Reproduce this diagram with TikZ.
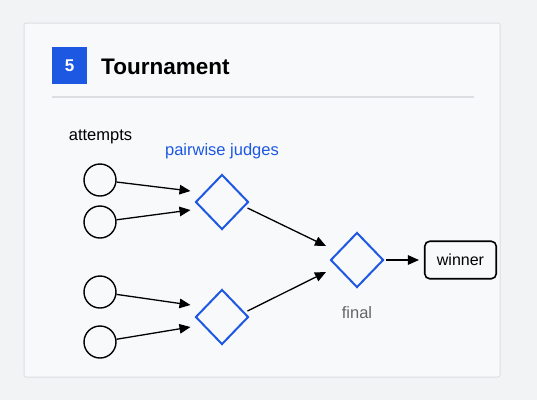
\documentclass[tikz,border=0pt]{standalone}
\usepackage{fontspec}
\setmainfont{Liberation Sans}
\usepackage{tikz}
\usetikzlibrary{shapes.geometric,arrows.meta,calc,positioning}
\definecolor{judgeblue}{HTML}{1D58E2}
\definecolor{cardline}{HTML}{DCDEE2}
\definecolor{pagebg}{HTML}{F2F3F5}
\definecolor{cardbg}{HTML}{F8F9FA}

\begin{document}
\begin{tikzpicture}[x=1pt,y=-1pt]
	\tikzstyle{attempt} = [circle, draw=black, line width=1.4pt, minimum size=32pt, inner sep=0pt]
	\tikzstyle{judge} = [diamond, draw=judgeblue, line width=2pt, minimum width=53pt, minimum height=55pt, inner sep=0pt]
	\tikzstyle{result} = [rectangle, rounded corners=5pt, draw=black, line width=1.6pt, minimum width=71.5pt, minimum height=37.5pt, font=\fontsize{16}{18}\selectfont]
	\tikzstyle{lbl} = [inner sep=0pt, font=\fontsize{16.5}{19}\selectfont]
	\tikzstyle{link} = [line width=1.3pt, -{Triangle[length=11pt 0 0,width=9.5pt 0 0]}]
\useasboundingbox (0,0) rectangle (537,400);
\fill[pagebg] (0,0) rectangle (537,400);
\draw[cardline, fill=cardbg, line width=1pt, rounded corners=2pt] (24,23) rectangle (500,377);
% heading
\node[fill=judgeblue, text=white, minimum width=35pt, minimum height=37pt, inner sep=0pt, font=\bfseries\fontsize{17}{17}\selectfont] (num) at (69.5,65.5) {5};
\node[anchor=base west, inner sep=0pt, font=\bfseries\fontsize{22.5}{24}\selectfont] (title) at (101,74) {Tournament};
\draw[cardline, line width=1.5pt] (52,97) -- (474,97);
% bracket
\node[attempt] (a1) at (100,180) {};
\node[attempt] (a2) at (100,222) {};
\node[attempt] (a3) at (100,292) {};
\node[attempt] (a4) at (100,342) {};
\node[judge] (j1) at (222,202) {};
\node[judge] (j2) at (222,317) {};
\node[judge] (fin) at (357,260) {};
\node[result] (win) at (460.5,260) {winner};
	\path[draw][link] (a1) -- ([shift={(-4,-11)}]j1.west);
	\path[draw][link] (a2) -- ([shift={(-4,8)}]j1.west);
	\path[draw][link] (a3) -- ([shift={(-4,-12)}]j2.west);
	\path[draw][link] (a4) -- ([shift={(-4,10)}]j2.west);
	\path[draw][link] ([shift={(-2,6)}]j1.east) -- ([shift={(-3.5,-14)}]fin.west);
	\path[draw][link] ([shift={(-2,-6)}]j2.east) -- ([shift={(-3.5,12)}]fin.west);
	\path[draw][link] ([xshift=1pt]fin.east) -- ([xshift=-5pt]win.west);
\node[lbl, anchor=base] (attlbl) at (100.5,140) {attempts};
\node[lbl, anchor=base, text=judgeblue] (judgelbl) at (222,155) {pairwise judges};
\node[lbl, anchor=base, text=black!60] (finlbl) at (357,318) {final};
\end{tikzpicture}
\end{document}
